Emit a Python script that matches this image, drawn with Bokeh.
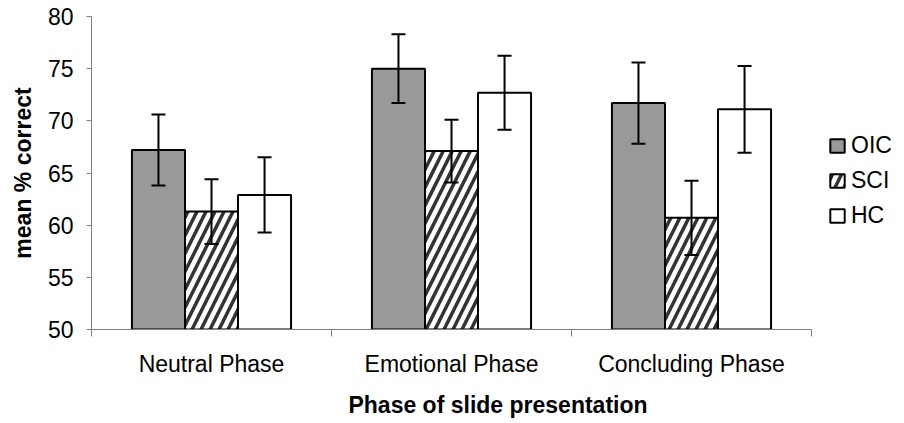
import numpy as np
from bokeh.plotting import figure
from bokeh.models import (ColumnDataSource, Whisker, TeeHead, FixedTicker, Legend,
                          LegendItem, Range1d, CustomJSTickFormatter)
from bokeh.embed import file_html
from bokeh.resources import INLINE

# ---- data ----
phases = ["Neutral Phase", "Emotional Phase", "Concluding Phase"]
groups = ["OIC", "SCI", "HC"]
oic_mean = [67.2, 75.0, 71.7]
oic_err = [3.4, 3.3, 3.9]
sci_mean = [61.3, 67.1, 60.7]
sci_err = [3.1, 3.0, 3.55]
hc_mean = [62.9, 72.7, 71.1]
hc_err = [3.6, 3.55, 4.15]
y_ticks = [50, 55, 60, 65, 70, 75, 80]

means = [oic_mean, sci_mean, hc_mean]
errs = [oic_err, sci_err, hc_err]

FONT = "Liberation Sans"
FS = "23px"
AXIS_COLOR = "#808080"

# plotting area spans to the right edge so the legend can sit beside the bars;
# the axis itself is bounded to the three categories
n = len(phases)
x_end = n * 813.0 / 720.0

p = figure(width=904, height=423, output_backend="svg", toolbar_location=None,
           x_range=Range1d(0, x_end), y_range=Range1d(50, 80),
           min_border_left=91, min_border_right=0, min_border_top=16, min_border_bottom=94)
p.outline_line_color = None
p.xgrid.visible = False
p.ygrid.visible = False
p.background_fill_color = "white"
p.border_fill_color = "white"

bar_w = 0.221
centers = np.arange(n) + 0.5
offsets = [-bar_w, 0.0, bar_w]

styles = [
    dict(fill_color="#999999"),
    dict(fill_color="white", hatch_pattern="/", hatch_color="#333333",
         hatch_scale=18, hatch_weight=3.5),
    dict(fill_color="white"),
]

renderers = []
for g, m, e, off, st in zip(groups, means, errs, offsets, styles):
    m = np.array(m)
    e = np.array(e)
    src = ColumnDataSource(dict(x=centers + off, top=m, upper=m + e, lower=m - e))
    r = p.vbar(x="x", top="top", bottom=50, width=bar_w, source=src,
               line_color="black", line_width=2, **st)
    renderers.append(r)
    w = Whisker(source=src, base="x", upper="upper", lower="lower",
                line_color="black", line_width=2, level="annotation",
                upper_head=TeeHead(size=14, line_color="black", line_width=2),
                lower_head=TeeHead(size=14, line_color="black", line_width=2))
    p.add_layout(w)

# ---- axes ----
for ax in (p.xaxis[0], p.yaxis[0]):
    ax.axis_line_color = AXIS_COLOR
    ax.axis_line_width = 1
    ax.major_label_text_font = FONT
    ax.major_label_text_font_size = FS
    ax.major_label_text_color = "black"
    ax.axis_label_text_font = FONT
    ax.axis_label_text_font_size = FS
    ax.axis_label_text_font_style = "bold"
    ax.axis_label_text_color = "black"

p.yaxis.ticker = FixedTicker(ticks=y_ticks)
p.yaxis.major_tick_line_color = AXIS_COLOR
p.yaxis.major_tick_out = 5
p.yaxis.major_tick_in = 0
p.yaxis.minor_tick_line_color = None
p.yaxis.major_label_standoff = 13
p.yaxis.axis_label = "mean % correct"
p.yaxis.axis_label_standoff = 9

p.xaxis.bounds = (0, n)
p.xaxis.ticker = FixedTicker(ticks=list(centers), minor_ticks=list(range(n + 1)))
p.xaxis.formatter = CustomJSTickFormatter(args=dict(labels=phases),
                                          code="return labels[Math.floor(tick)] || '';")
p.xaxis.major_tick_line_color = None
p.xaxis.major_tick_out = 7
p.xaxis.major_tick_in = 0
p.xaxis.minor_tick_line_color = AXIS_COLOR
p.xaxis.minor_tick_out = 7
p.xaxis.minor_tick_in = 0
p.xaxis.major_label_standoff = 14
p.xaxis.axis_label = "Phase of slide presentation"
p.xaxis.axis_label_standoff = 12

# ---- legend ----
legend = Legend(items=[LegendItem(label=g, renderers=[r]) for g, r in zip(groups, renderers)],
                location=(737, 100.5))
legend.label_text_font = FONT
legend.label_text_font_size = FS
legend.label_text_color = "black"
legend.glyph_width = 18
legend.glyph_height = 17
legend.label_height = 27
legend.spacing = 8
legend.padding = 5
legend.margin = 0
legend.label_standoff = 5
legend.border_line_color = None
legend.background_fill_alpha = 0
p.add_layout(legend)

open("out.html", "w").write(file_html(p, INLINE))
